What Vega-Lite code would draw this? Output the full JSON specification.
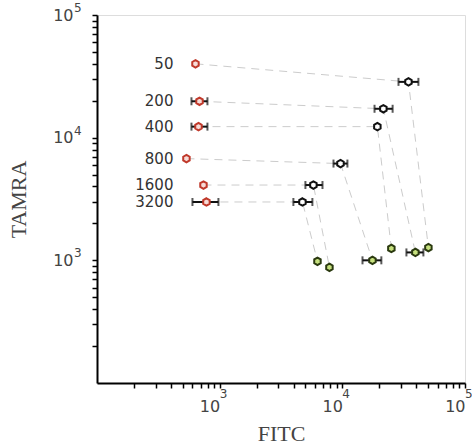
{
  "$schema": "https://vega.github.io/schema/vega-lite/v6.json",
  "autosize": "none",
  "padding": {"left": 97, "top": 15, "right": 7, "bottom": 64},
  "width": 368,
  "height": 368,
  "background": "white",
  "config": {"view": {"stroke": "#dddddd", "strokeWidth": 1}},
  "datasets": {
    "pts": [
      {"conc": "50", "stage": "a", "x": 635, "y": 40000},
      {"conc": "50", "stage": "b", "x": 34600, "y": 28500, "xlo": 28700, "xhi": 41700},
      {"conc": "50", "stage": "c", "x": 50300, "y": 1270},
      {"conc": "200", "stage": "a", "x": 685, "y": 19800, "xlo": 589, "xhi": 795},
      {"conc": "200", "stage": "b", "x": 21600, "y": 17200, "xlo": 18300, "xhi": 25700},
      {"conc": "200", "stage": "c", "x": 39400, "y": 1160, "xlo": 33300, "xhi": 45800},
      {"conc": "400", "stage": "a", "x": 672, "y": 12300, "xlo": 589, "xhi": 795},
      {"conc": "400", "stage": "b", "x": 19300, "y": 12300},
      {"conc": "400", "stage": "c", "x": 25100, "y": 1250},
      {"conc": "800", "stage": "a", "x": 536, "y": 6750},
      {"conc": "800", "stage": "b", "x": 9660, "y": 6150, "xlo": 8470, "xhi": 11000},
      {"conc": "800", "stage": "c", "x": 17600, "y": 1000, "xlo": 14600, "xhi": 20800},
      {"conc": "1600", "stage": "a", "x": 738, "y": 4110},
      {"conc": "1600", "stage": "b", "x": 5810, "y": 4110, "xlo": 5000, "xhi": 6890},
      {"conc": "1600", "stage": "c", "x": 7850, "y": 877},
      {"conc": "3200", "stage": "a", "x": 780, "y": 2990, "xlo": 600, "xhi": 977},
      {"conc": "3200", "stage": "b", "x": 4730, "y": 2990, "xlo": 3990, "xhi": 5700},
      {"conc": "3200", "stage": "c", "x": 6270, "y": 982}
    ],
    "exps": [
      {"v": 1000, "exp": "3"},
      {"v": 10000, "exp": "4"},
      {"v": 100000, "exp": "5"}
    ]
  },
  "data": {"name": "pts"},
  "layer": [
    {
      "mark": {"type": "line", "color": "#cccccc", "strokeWidth": 1, "strokeDash": [8, 6]},
      "encoding": {
        "x": {"field": "x", "type": "quantitative", "title": "FITC"},
        "y": {"field": "y", "type": "quantitative", "title": "TAMRA"},
        "detail": {"field": "conc"},
        "order": {"field": "stage"}
      }
    },
    {
      "transform": [{"filter": "datum.xlo != null"}],
      "mark": {"type": "errorbar", "color": "#111111", "thickness": 2, "ticks": {"size": 8, "thickness": 2, "color": "#111111"}},
      "encoding": {
        "x": {"field": "xlo", "type": "quantitative", "title": "FITC"},
        "x2": {"field": "xhi"},
        "y": {"field": "y", "type": "quantitative", "title": "TAMRA"}
      }
    },
    {
      "mark": {"type": "point", "filled": false, "strokeWidth": 2, "size": 55, "opacity": 1,
               "shape": "M0,-1L0.87,-0.5L0.87,0.5L0,1L-0.87,0.5L-0.87,-0.5Z"},
      "encoding": {
        "x": {
          "field": "x", "type": "quantitative", "title": "FITC",
          "scale": {"type": "log", "domain": [100, 100000], "nice": false},
          "axis": {
            "titleFont": "Liberation Serif", "titleFontSize": 22, "titleFontWeight": "normal", "titleColor": "#444444", "titlePadding": 9,
            "grid": false, "domainColor": "#000000", "domainWidth": 2, "tickColor": "#000000", "tickWidth": 1.5, "tickSize": 5,
            "values": [200,300,400,500,600,700,800,900,1000,2000,3000,4000,5000,6000,7000,8000,9000,10000,20000,30000,40000,50000,60000,70000,80000,90000,100000],
            "labelExpr": "datum.value == 1000 || datum.value == 10000 || datum.value == 100000 ? '10' : ''",
            "labelOverlap": false, "labelFont": "DejaVu Sans", "labelFontSize": 16, "labelColor": "#444444", "labelPadding": 10, "labelFlush": false,
            "labelAlign": "right", "labelDx": -1
          }
        },
        "y": {
          "field": "y", "type": "quantitative", "title": "TAMRA",
          "scale": {"type": "log", "domain": [100, 100000], "nice": false},
          "axis": {
            "titleFont": "Liberation Serif", "titleFontSize": 22, "titleFontWeight": "normal", "titleColor": "#444444", "titlePadding": 22,
            "grid": false, "domainColor": "#000000", "domainWidth": 2, "tickColor": "#000000", "tickWidth": 1.5, "tickSize": 5,
            "values": [200,300,400,500,600,700,800,900,1000,2000,3000,4000,5000,6000,7000,8000,9000,10000,20000,30000,40000,50000,60000,70000,80000,90000,100000],
            "labelExpr": "datum.value == 1000 || datum.value == 10000 || datum.value == 100000 ? '10' : ''",
            "labelOverlap": false, "labelFont": "DejaVu Sans", "labelFontSize": 16, "labelColor": "#444444", "labelPadding": 19, "labelFlush": false,
            "labelDy": 3
          }
        },
        "stroke": {"field": "stage", "type": "nominal", "scale": {"domain": ["a", "b", "c"], "range": ["#c0392b", "#111111", "#2b3a10"]}, "legend": null},
        "fill": {"field": "stage", "type": "nominal", "scale": {"domain": ["a", "b", "c"], "range": ["#f7dcd8", "#ffffff", "#c6e07e"]}, "legend": null}
      }
    },
    {
      "transform": [{"filter": "datum.stage == 'a'"}],
      "mark": {"type": "text", "align": "right", "baseline": "middle", "font": "DejaVu Sans", "fontSize": 15, "color": "#333333"},
      "encoding": {
        "x": {"datum": 420, "type": "quantitative"},
        "y": {"field": "y", "type": "quantitative"},
        "text": {"field": "conc", "type": "nominal"}
      }
    },
    {
      "data": {"name": "exps"},
      "mark": {"type": "text", "align": "left", "baseline": "top", "dy": 6, "dx": 0, "font": "DejaVu Sans", "fontSize": 12, "color": "#444444", "clip": false},
      "encoding": {
        "x": {"field": "v", "type": "quantitative", "title": "FITC"},
        "y": {"datum": 100, "type": "quantitative"},
        "text": {"field": "exp", "type": "nominal"}
      }
    },
    {
      "data": {"name": "exps"},
      "mark": {"type": "text", "align": "left", "baseline": "bottom", "dy": 0, "dx": -23, "font": "DejaVu Sans", "fontSize": 12, "color": "#444444", "clip": false},
      "encoding": {
        "x": {"datum": 100, "type": "quantitative"},
        "y": {"field": "v", "type": "quantitative", "title": "TAMRA"},
        "text": {"field": "exp", "type": "nominal"}
      }
    }
  ]
}
